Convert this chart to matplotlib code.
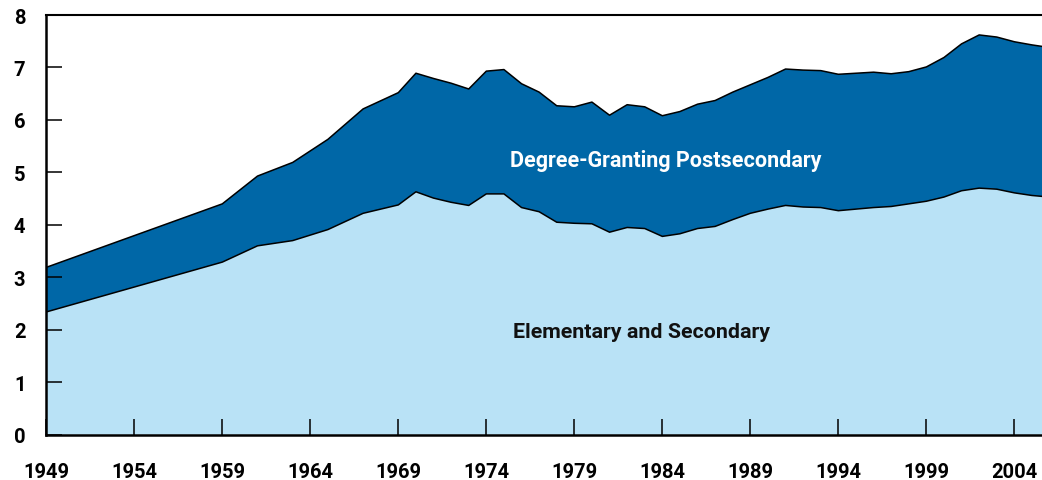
import matplotlib
matplotlib.use("Agg")
from matplotlib import pyplot as plt
import numpy as np

# school enrollment shares
years = [1949, 1959, 1961, 1963, 1965, 1967, 1969, 1970, 1971, 1972, 1973,
         1974, 1975, 1976, 1977, 1978, 1979, 1980, 1981, 1982, 1983, 1984,
         1985, 1986, 1987, 1988, 1989, 1990, 1991, 1992, 1993, 1994, 1995,
         1996, 1997, 1998, 1999, 2000, 2001, 2002, 2003, 2004, 2005, 2006]
elementary = [2.34, 3.29, 3.60, 3.70, 3.91, 4.22, 4.38, 4.63, 4.51, 4.43, 4.37,
              4.59, 4.59, 4.33, 4.25, 4.05, 4.03, 4.02, 3.86, 3.95, 3.93, 3.78,
              3.83, 3.93, 3.97, 4.10, 4.22, 4.30, 4.37, 4.34, 4.33, 4.27, 4.30,
              4.33, 4.35, 4.40, 4.45, 4.53, 4.65, 4.70, 4.68, 4.61, 4.56, 4.53]
postsecondary = [0.85, 1.11, 1.33, 1.49, 1.72, 1.99, 2.14, 2.26, 2.28, 2.27, 2.22,
                 2.34, 2.37, 2.36, 2.28, 2.22, 2.22, 2.32, 2.23, 2.34, 2.32, 2.30,
                 2.33, 2.37, 2.40, 2.43, 2.45, 2.51, 2.60, 2.61, 2.61, 2.60, 2.59,
                 2.58, 2.53, 2.52, 2.56, 2.66, 2.80, 2.92, 2.90, 2.88, 2.87, 2.85]
xticks = list(range(1949, 2005, 5))
yticks = list(range(0, 9))

dark_blue = "#0067A7"
light_blue = "#B9E2F6"

plt.rcParams["font.family"] = ["Roboto", "DejaVu Sans"]
plt.rcParams["font.weight"] = "bold"

W, H = 1042, 481
fig = plt.figure(figsize=(W / 100, H / 100), dpi=100)
ax = fig.add_axes([46.3 / W, (H - 435.7) / H, (W - 46.3) / W, (435.7 - 16) / H])

ax.stackplot(years, elementary, postsecondary,
             colors=[light_blue, dark_blue], linewidth=0)
total = np.array(elementary) + np.array(postsecondary)
ax.plot(years, elementary, color="black", lw=1.1)
ax.plot(years, total, color="black", lw=1.1)

ax.set_xlim(1949, 2005.57)
ax.set_ylim(0, 8)
ax.set_xticks(xticks)
ax.set_yticks(yticks)

ax.tick_params(axis="both", direction="in", length=11.5, width=1.1,
               labelsize=14.5, colors="black")
ax.tick_params(axis="y", pad=15)
ax.tick_params(axis="x", pad=20)
for lab in ax.get_xticklabels() + ax.get_yticklabels():
    lab.set_fontweight("bold")

ax.spines["right"].set_visible(False)
ax.spines["left"].set_linewidth(1.8)
ax.spines["bottom"].set_linewidth(1.8)
ax.spines["top"].set_linewidth(1.5)

ax.text(1984.21, 5.24, "Degree-Granting Postsecondary", color="white",
        fontsize=15.5, fontweight="bold", ha="center", va="center")
ax.text(1982.83, 1.97, "Elementary and Secondary", color="#111111",
        fontsize=15.4, fontweight="bold", ha="center", va="center")

fig.savefig("out.png", dpi=100)
